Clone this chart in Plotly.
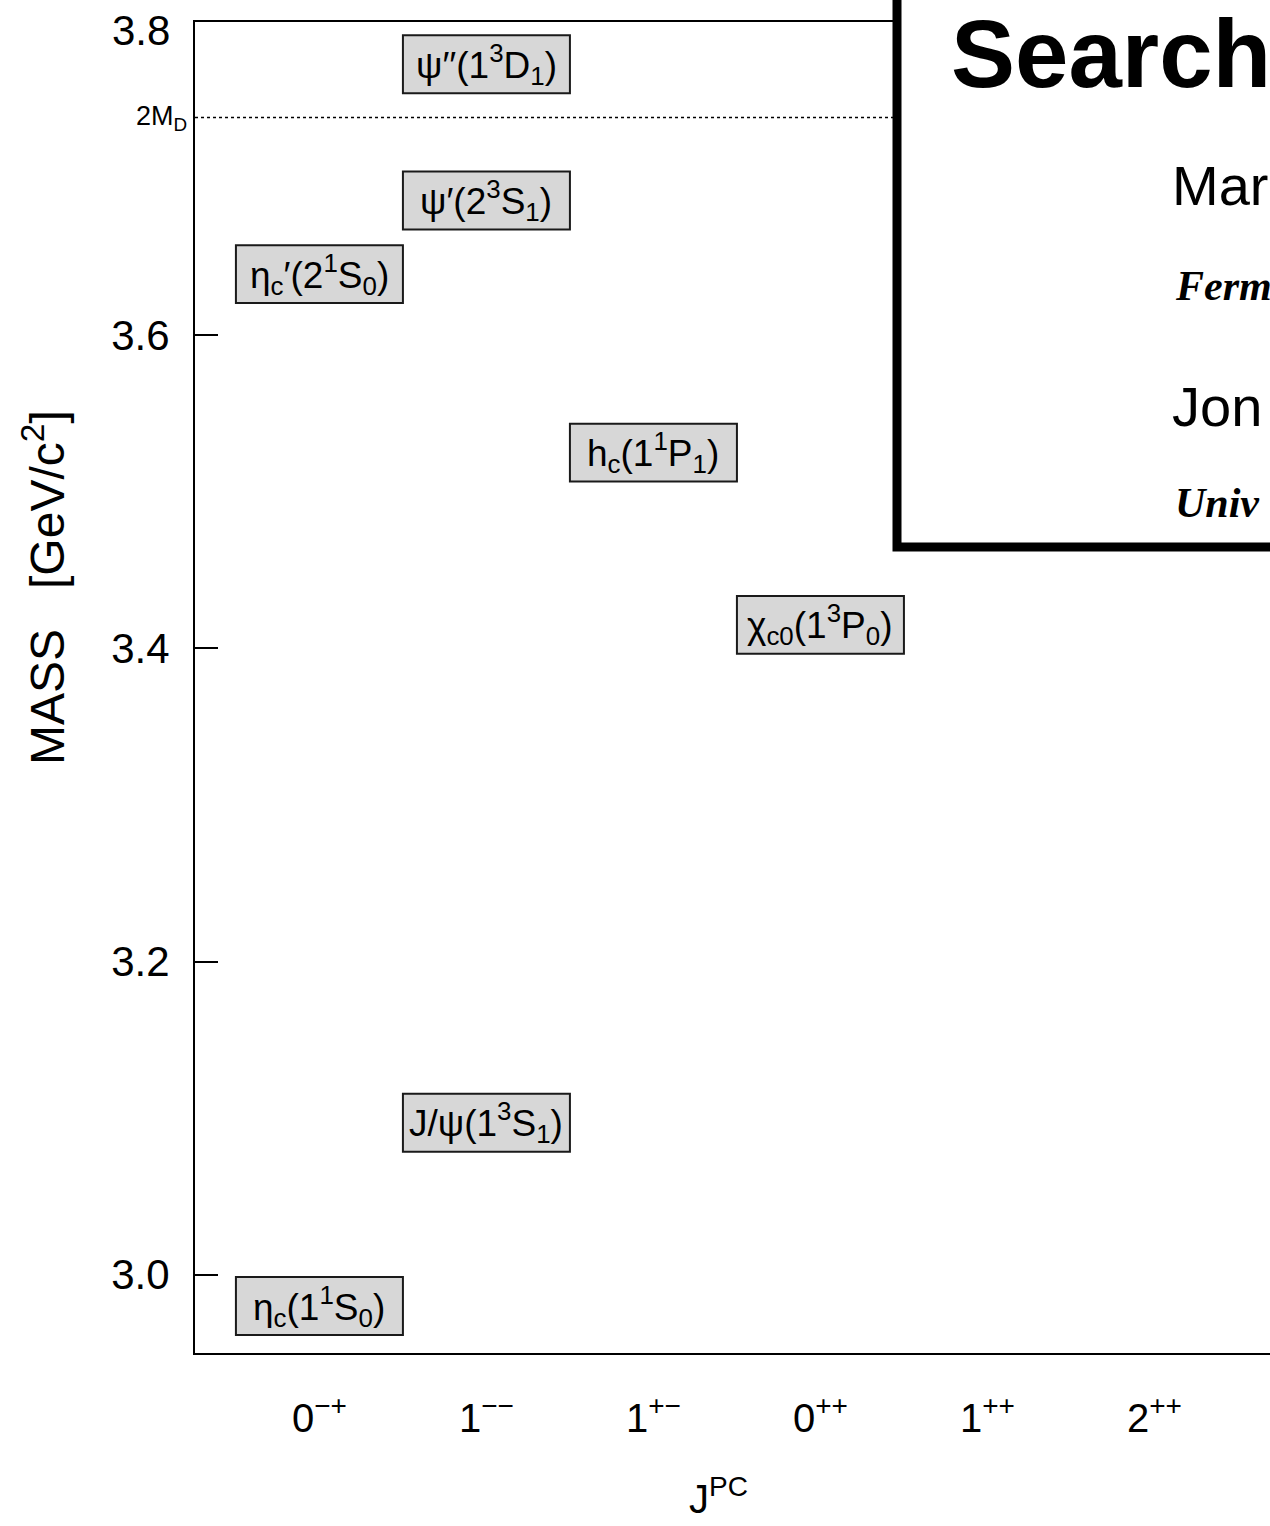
import plotly.graph_objects as go

# Charmonium states: J^PC column, mass [GeV/c^2], label
jpc_labels = ["0<sup>−+</sup>", "1<sup>−−</sup>", "1<sup>+−</sup>",
              "0<sup>++</sup>", "1<sup>++</sup>", "2<sup>++</sup>"]
state_names = [
    "η<sub>c</sub>(1<sup>1</sup>S<sub>0</sub>)",
    "η<sub>c</sub>′(2<sup>1</sup>S<sub>0</sub>)",
    "J/ψ(1<sup>3</sup>S<sub>1</sub>)",
    "ψ′(2<sup>3</sup>S<sub>1</sub>)",
    "ψ′′(1<sup>3</sup>D<sub>1</sub>)",
    "h<sub>c</sub>(1<sup>1</sup>P<sub>1</sub>)",
    "χ<sub>c0</sub>(1<sup>3</sup>P<sub>0</sub>)",
]
state_jpc = [0, 0, 1, 1, 1, 2, 3]
state_mass = [2.980, 3.639, 3.097, 3.686, 3.773, 3.525, 3.415]
open_charm_threshold = 3.739   # 2 M_D
y_ticks = [3.0, 3.2, 3.4, 3.6, 3.8]

W, H = 1270, 1526
ML, MR, MT, MB = 195, 0, 22, 173
X_RANGE = [-0.745, 5.692]
Y_RANGE = [2.95, 3.80]
BOX_HALF_H = 0.0185


def px_x(px):
    return (px - ML) / (W - ML - MR)


def px_y(py):
    return (H - MB - py) / (H - MB - MT)


fig = go.Figure()
# invisible trace so the axes exist
fig.add_trace(go.Scatter(x=state_jpc, y=state_mass, mode="markers",
                         marker=dict(opacity=0), hoverinfo="skip",
                         showlegend=False))

shapes = []
annotations = []

# 2 M_D threshold
shapes.append(dict(type="line", xref="paper", yref="y", x0=0, x1=1,
                   y0=open_charm_threshold, y1=open_charm_threshold,
                   line=dict(color="black", width=1.5, dash="3px,3px")))
annotations.append(dict(xref="paper", yref="y", x=px_x(189),
                        y=open_charm_threshold, xanchor="right",
                        yanchor="middle", showarrow=False,
                        text="2M<sub>D</sub>",
                        font=dict(size=27, color="black")))

# top tick label sits just under the frame edge
annotations.append(dict(xref="paper", yref="y", x=px_x(172), y=y_ticks[-1],
                        yshift=-8, xanchor="right", yanchor="middle",
                        showarrow=False, text=f"{y_ticks[-1]:.1f}",
                        font=dict(size=42, color="black")))

# state boxes and labels
for name, j, m in zip(state_names, state_jpc, state_mass):
    shapes.append(dict(type="rect", xref="x", yref="y",
                       x0=j - 0.5, x1=j + 0.5,
                       y0=m - BOX_HALF_H, y1=m + BOX_HALF_H,
                       fillcolor="#d7d7d7",
                       line=dict(color="#1a1a1a", width=2)))
    annotations.append(dict(xref="x", yref="y", x=j, y=m, text=name,
                            showarrow=False, xanchor="center",
                            yanchor="middle",
                            font=dict(size=37, color="black")))

# title panel overlapping the upper right
shapes.append(dict(type="rect", xref="paper", yref="paper",
                   x0=px_x(897), x1=px_x(1320), y0=px_y(547), y1=px_y(-30),
                   fillcolor="white", line=dict(color="black", width=9),
                   layer="above"))
panel_text = [
    ("Search", 949, 54, dict(size=96, color="black",
                             family="Liberation Sans", weight="bold")),
    ("Mar", 1170, 186, dict(size=56, color="black",
                            family="Liberation Sans")),
    ("Ferm", 1173, 286, dict(size=42, color="black",
                             family="Liberation Serif", style="italic",
                             weight="bold")),
    ("Jon", 1170, 406, dict(size=56, color="black",
                            family="Liberation Sans")),
    ("Univ", 1173, 503, dict(size=42, color="black",
                             family="Liberation Serif", style="italic",
                             weight="bold")),
]
for txt, px, py, f in panel_text:
    annotations.append(dict(xref="paper", yref="paper", x=px_x(px),
                            y=px_y(py), text=txt, showarrow=False,
                            xanchor="left", yanchor="middle", font=f))

# axis titles
annotations.append(dict(xref="paper", yref="paper", x=px_x(44),
                        y=px_y(588), text="MASS   [GeV/c<sup>2</sup>]",
                        textangle=-90, showarrow=False, xanchor="center",
                        yanchor="middle", font=dict(size=48, color="black")))
annotations.append(dict(xref="paper", yref="paper", x=px_x(718),
                        y=px_y(1496), text="J<sup>PC</sup>",
                        showarrow=False, xanchor="center", yanchor="middle",
                        font=dict(size=40, color="black")))

fig.update_layout(
    width=W, height=H,
    margin=dict(l=ML, r=MR, t=MT, b=MB),
    paper_bgcolor="white", plot_bgcolor="white",
    font=dict(family="Liberation Sans, Arial, sans-serif", color="black"),
    shapes=shapes, annotations=annotations,
    showlegend=False,
)
fig.update_xaxes(range=X_RANGE, tickmode="array",
                 tickvals=list(range(len(jpc_labels))), ticktext=jpc_labels,
                 ticks="", showgrid=False, zeroline=False,
                 showline=True, linecolor="black", linewidth=2, mirror=True,
                 tickfont=dict(size=40), ticklabelstandoff=29)
fig.update_yaxes(range=Y_RANGE, tickmode="array", tickvals=y_ticks[:-1],
                 ticktext=[f"{v:.1f}" for v in y_ticks[:-1]],
                 ticks="inside", ticklen=23, tickwidth=1.5, tickcolor="black",
                 showgrid=False, zeroline=False,
                 showline=True, linecolor="black", linewidth=2, mirror=False,
                 tickfont=dict(size=42), ticklabelstandoff=15)

fig.write_html("out.html")
